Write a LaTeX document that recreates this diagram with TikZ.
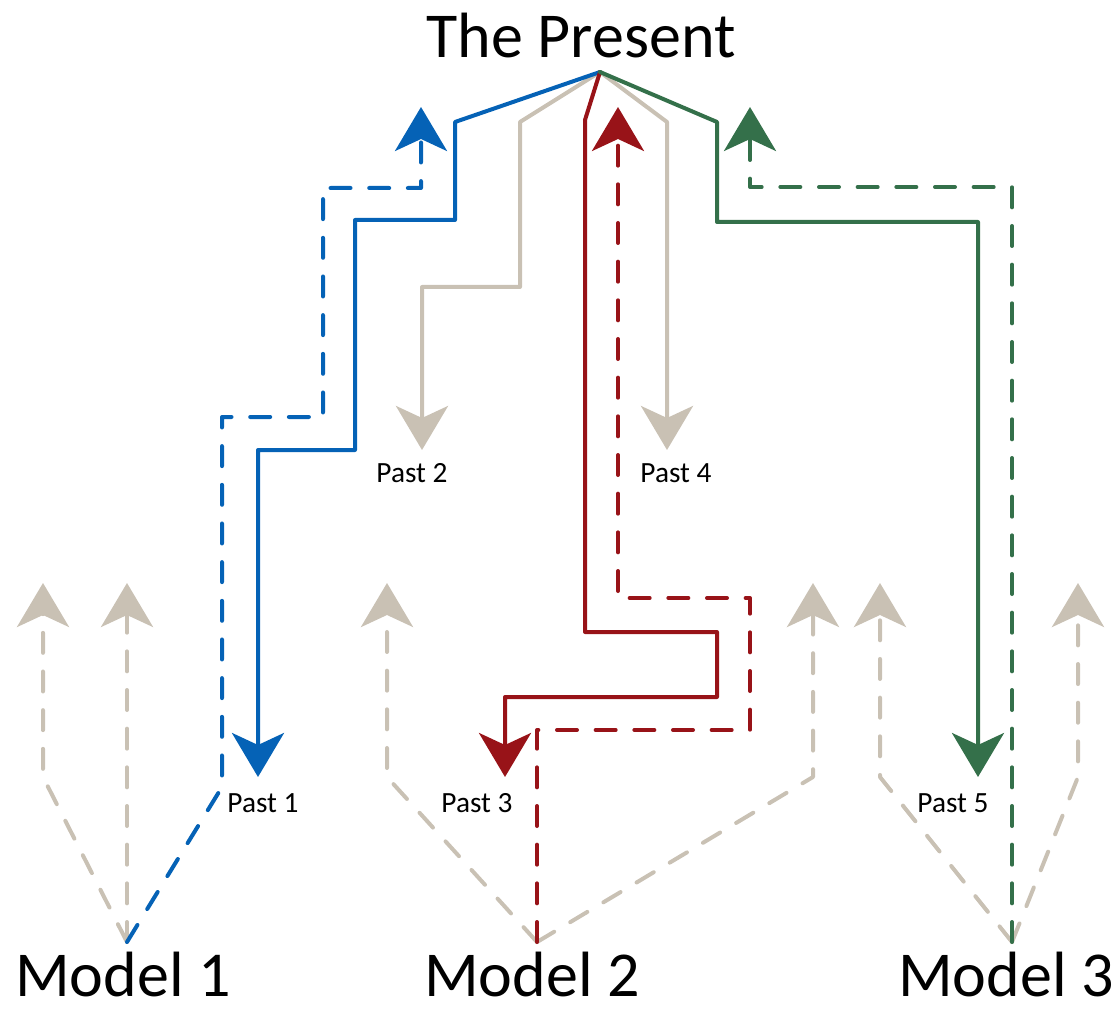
\documentclass[tikz,border=0pt]{standalone}
\usepackage{fontspec}
\setmainfont{Carlito}
\usetikzlibrary{arrows.meta}
\definecolor{pastblue}{RGB}{5,98,182}
\definecolor{pastred}{RGB}{152,19,24}
\definecolor{pastgreen}{RGB}{52,112,74}
\definecolor{pastgray}{RGB}{201,193,180}
\begin{document}
\begin{tikzpicture}[x=0.75pt,y=-0.75pt,line join=round,line cap=round,
  >={Stealth[length=33pt,width=39pt,inset=9pt]},
  trail/.style={line width=3pt},
  back/.style={trail,dash pattern=on 15pt off 14pt},
  big/.style={font=\fontsize{48}{50}\selectfont,anchor=base,inner sep=0pt},
  small/.style={font=\fontsize{22}{24}\selectfont,anchor=base}]
\useasboundingbox (0,0) rectangle (1120,1012);
\path
(600,72) coordinate (now)
(127,942) coordinate (m1)
(537,942) coordinate (m2)
(1012,942) coordinate (m3)
(258,777) coordinate (p1)
(422,450) coordinate (p2)
(505,777) coordinate (p3)
(667,450) coordinate (p4)
(978,777) coordinate (p5)
(421,107) coordinate (b1)
(618,107) coordinate (r1)
(750,107) coordinate (v1)
;
% labels
\node[big] (present) at (581,58) {The Present};
\node[big] (model1) at (123,996) {Model 1};
\node[big] (model2) at (532,996) {Model 2};
\node[big] (model3) at (1006,996) {Model 3};
\foreach \n/\x/\y in {1/263/812, 2/412/482, 3/477/812, 4/676/482, 5/953/812}
  \node[small] (past\n) at (\x,\y) {Past \n};
% other pasts, not taken
\foreach \m/\a/\b in {m1/43/43, m2/387/387, m2/813/813, m3/880/880, m3/1078/1078}
  \draw[back,pastgray,->] (\m) -- (\a,777) -- (\b,583);
\draw[back,pastgray,->] (m1) -- (127,583);
\draw[trail,pastgray,->] (now) -- (520,122) -- (520,287) -- (422,287) -- (p2);
\draw[trail,pastgray,->] (now) -- (667,122) -- (p4);
% model 1
\draw[back,pastblue,->] (m1) -- (222,787) -- (222,417) -- (323,417) -- (323,188) -- (421,188) -- (b1);
\draw[trail,pastblue,->] (now) -- (455,122) -- (455,220) -- (355,220) -- (355,450) -- (258,450) -- (p1);
% model 2
\draw[back,pastred,->] (m2) -- (537,730) -- (750,730) -- (750,598) -- (618,598) -- (r1);
\draw[trail,pastred,->] (now) -- (585,120) -- (585,632) -- (717,632) -- (717,697) -- (505,697) -- (p3);
% model 3
\draw[back,pastgreen,->] (m3) -- (1012,187) -- (750,187) -- (v1);
\draw[trail,pastgreen,->] (now) -- (717,122) -- (717,222) -- (978,222) -- (p5);
\end{tikzpicture}
\end{document}
